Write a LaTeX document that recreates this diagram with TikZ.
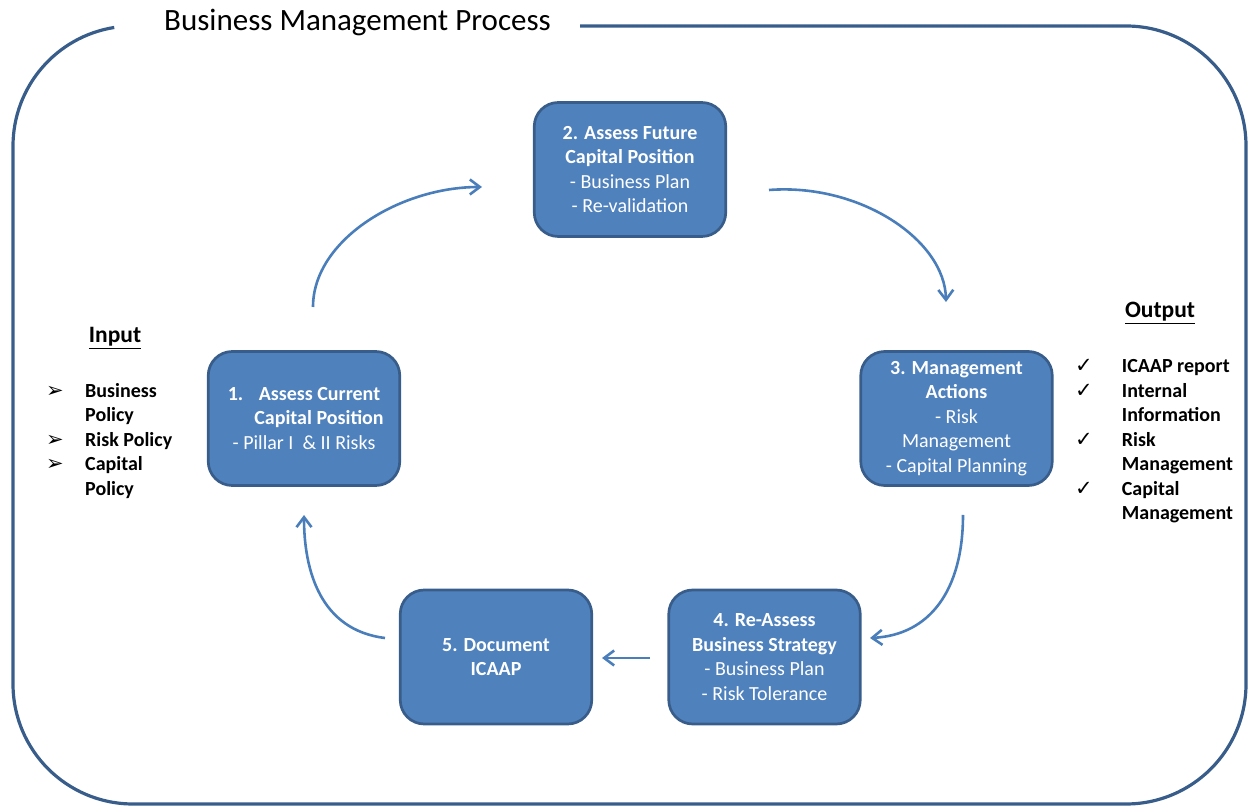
\documentclass[tikz,border=0pt]{standalone}
\usepackage{fontspec}
\setmainfont{Carlito}
\newfontfamily\symfont{DejaVu Sans}
\usetikzlibrary{arrows.meta}
\definecolor{boxfill}{HTML}{4F81BD}
\definecolor{boxline}{HTML}{385D8A}
\definecolor{arrowcol}{HTML}{4A7EBB}
\newcommand{\symb}[1]{{\symfont\mdseries\fontsize{21}{21}\selectfont #1}}
\begin{document}
\begin{tikzpicture}[x=1pt,y=1pt,
  stepbox/.style={draw=boxline, line width=2.7pt, fill=boxfill, rounded corners=24pt,
    minimum width=191.5pt, minimum height=134pt, inner sep=0pt, text=white, align=center,
    font=\fontsize{20}{24.5}\selectfont},
  flow/.style={draw=arrowcol, line width=2.6pt, -{Straight Barb[length=10pt,width=15pt]}},
  frame/.style={draw=boxline, line width=3.2pt},
  heading/.style={font=\fontsize{23.5}{28}\selectfont\bfseries, anchor=base, inner sep=0pt},
  listtext/.style={anchor=north west, inner sep=0pt, font=\fontsize{20}{24.5}\selectfont\bfseries}]
\useasboundingbox (0,0) rectangle (1248,806);

% outer frame
\draw[frame] (580,780) -- (1126,780) arc[start angle=90,end angle=0,radius=120]
  -- (1246,122) arc[start angle=0,end angle=-90,radius=120]
  -- (133,2) arc[start angle=270,end angle=180,radius=120]
  -- (13,660) arc[start angle=180,end angle=99,radius=120];

\node[font=\fontsize{31}{37}\selectfont, anchor=base, inner sep=0pt] (title) at (357.5,775) {Business Management Process};

% boxes
\node[stepbox] (b1) at (304,387.5) {\textbf{1.\hspace{15.5pt}Assess Current}\\\hspace*{30pt}\textbf{Capital Position}\\- Pillar I\ \ \& II Risks};
\node[stepbox] (b2) at (630,636.5) {\textbf{2. Assess Future}\\\textbf{Capital Position}\\- Business Plan\\- Re-validation};
\node[stepbox] (b3) at (956.5,387.5) {\textbf{3. Management}\\\textbf{Actions}\\- Risk\\Management\\- Capital Planning};
\node[stepbox] (b4) at (764.5,149) {\textbf{4. Re-Assess}\\\textbf{Business Strategy}\\- Business Plan\\- Risk Tolerance};
\node[stepbox] (b5) at (496,149) {\textbf{5. Document}\\\textbf{ICAAP}};

% input / output
\node[heading] (inhead) at (115,463) {\underline{Input}};
\node[listtext] (inlist) at (46,426.1) {\begin{tabular}{@{}p{39pt}@{}l@{}}
\symb{➢} & Business\\
 & Policy\\
\symb{➢} & Risk Policy\\
\symb{➢} & Capital\\
 & Policy
\end{tabular}};

\node[heading] (outhead) at (1160,488) {\underline{Output}};
\node[listtext] (outlist) at (1075,450.8) {\begin{tabular}{@{}p{46.7pt}@{}l@{}}
\symb{✓} & ICAAP report\\
\symb{✓} & Internal\\
 & Information\\
\symb{✓} & Risk\\
 & Management\\
\symb{✓} & Capital\\
 & Management
\end{tabular}};

% arrow end points
\coordinate (a1s) at (313,499);
\coordinate (a1e) at (482,619);
\coordinate (a2s) at (769,616);
\coordinate (a2e) at (946,504);
\coordinate (a3s) at (963,291);
\coordinate (a3e) at (870,168);
\coordinate (a4s) at (650,148);
\coordinate (a4e) at (602,148);
\coordinate (a5s) at (385,168);
\coordinate (a5e) at (304,291);

\draw[flow] (a1s) .. controls (313,566) and (400,619) .. (a1e);
\draw[flow] (a2s) .. controls (860,623) and (945,566) .. (a2e);
\draw[flow] (a3s) .. controls (963,216) and (930,171) .. (a3e);
\draw[flow] (a4s) -- (a4e);
\draw[flow] (a5s) .. controls (320,176) and (304,236) .. (a5e);
\end{tikzpicture}
\end{document}
